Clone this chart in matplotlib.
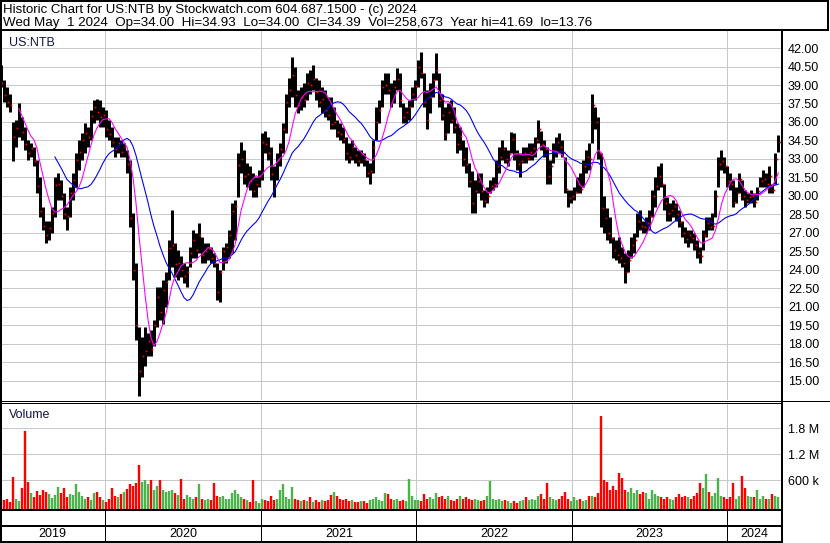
import numpy as np
import pandas as pd
import matplotlib
matplotlib.use("Agg")
import matplotlib.pyplot as plt
from matplotlib.patches import Rectangle

plt.rcParams['font.family'] = ['Liberation Sans', 'DejaVu Sans']

W, H = 830, 543
PX = 72 / 100  # one pixel in points

# roughly weekly bars from the end of April 2019 to May 1 2024
dates = pd.date_range(start="2019-04-30", end="2024-05-01", periods=260)

hi = [40.6, 39.4, 38.8, 38.3, 36.0, 36.2, 37.5, 36.4, 35.6, 34.5,
      34.3, 34.0, 32.9, 31.5, 29.1, 28.0, 28.0, 29.1, 31.5, 31.9,
      31.3, 30.2, 29.1, 30.7, 31.9, 33.5, 34.5, 35.1, 35.9, 35.6,
      37.0, 37.8, 37.9, 37.8, 37.2, 37.0, 36.2, 35.6, 34.8, 34.8,
      34.5, 34.3, 33.7, 32.9, 28.6, 24.6, 19.4, 18.6, 19.4, 18.9,
      19.1, 19.9, 22.6, 22.6, 23.2, 23.8, 26.4, 28.9, 26.2, 25.6,
      25.1, 24.6, 24.3, 25.9, 27.2, 27.0, 27.8, 26.7, 26.2, 26.2,
      25.9, 25.4, 24.6, 24.0, 25.9, 26.2, 27.2, 29.4, 29.7, 33.5,
      34.4, 33.7, 32.7, 32.4, 31.9, 31.5, 32.1, 35.1, 35.3, 34.8,
      34.0, 32.4, 33.5, 34.3, 35.9, 38.3, 39.6, 41.3, 40.5, 38.6,
      38.8, 39.2, 40.0, 40.2, 40.6, 39.6, 39.4, 38.8, 38.6, 38.0,
      38.0, 37.2, 36.2, 35.9, 35.6, 34.8, 34.3, 34.5, 34.0, 33.7,
      33.7, 33.5, 32.9, 32.7, 34.5, 37.2, 37.8, 39.4, 40.0, 40.0,
      39.2, 39.4, 40.4, 40.0, 37.5, 37.2, 37.8, 38.8, 39.4, 41.0,
      41.69, 40.0, 38.6, 39.2, 40.0, 41.6, 40.0, 38.3, 37.2, 37.5,
      37.8, 37.2, 35.9, 35.6, 34.5, 34.0, 32.7, 32.0, 31.3, 31.9,
      31.9, 30.5, 30.7, 31.3, 31.5, 32.9, 34.0, 34.5, 34.0, 33.7,
      35.2, 35.1, 33.7, 33.5, 34.0, 34.0, 34.3, 34.3, 34.8, 36.2,
      35.3, 34.5, 34.0, 32.9, 34.3, 34.8, 35.1, 34.5, 33.2, 30.5,
      30.5, 30.7, 31.5, 31.9, 32.9, 33.7, 34.3, 38.3, 37.2, 36.4,
      33.5, 30.0, 29.0, 28.3, 26.7, 26.4, 26.7, 25.9, 25.4, 25.6,
      26.7, 27.0, 28.6, 28.9, 28.0, 28.3, 28.9, 30.5, 31.5, 32.4,
      32.7, 31.0, 29.9, 29.4, 29.7, 29.4, 28.9, 28.0, 27.5, 27.2,
      27.2, 27.0, 26.4, 25.9, 27.2, 28.3, 28.3, 28.6, 30.5, 33.2,
      33.7, 33.2, 32.4, 31.9, 31.3, 30.7, 31.9, 31.3, 30.5, 30.2,
      30.5, 30.2, 30.7, 31.5, 32.1, 31.9, 32.4, 31.0, 33.5, 34.93]

lo = [38.8, 37.6, 37.2, 36.8, 32.8, 34.0, 34.8, 34.5, 33.7, 32.9,
      33.2, 32.4, 30.2, 28.3, 27.2, 26.2, 26.4, 27.0, 28.3, 29.7,
      29.7, 28.1, 27.2, 28.3, 29.7, 30.7, 32.1, 32.9, 33.5, 34.0,
      34.5, 35.9, 36.2, 35.6, 35.6, 34.8, 34.5, 34.0, 33.2, 33.5,
      33.2, 33.2, 31.9, 27.5, 23.2, 18.3, 13.76, 15.3, 16.2, 17.0,
      17.0, 17.8, 19.4, 19.9, 19.6, 21.0, 23.2, 24.2, 23.4, 23.2,
      23.4, 22.9, 22.6, 24.2, 25.0, 25.0, 25.4, 24.6, 24.6, 24.8,
      24.6, 24.2, 21.6, 21.4, 24.0, 24.6, 25.0, 25.4, 26.4, 29.9,
      31.9, 31.0, 30.7, 30.5, 29.9, 29.9, 30.7, 31.3, 33.5, 32.9,
      31.3, 29.9, 31.3, 32.4, 33.5, 35.1, 37.2, 38.0, 37.2, 36.7,
      37.0, 37.2, 37.8, 38.3, 38.6, 37.8, 37.2, 36.7, 36.4, 36.2,
      35.4, 35.4, 34.8, 34.5, 34.3, 32.9, 32.7, 32.9, 32.7, 32.4,
      32.7, 32.4, 31.5, 31.0, 31.9, 34.5, 35.9, 37.2, 38.3, 38.3,
      37.2, 37.5, 38.6, 37.2, 35.9, 35.9, 36.2, 37.2, 37.8, 38.8,
      39.6, 37.2, 35.4, 36.7, 38.0, 39.4, 37.2, 36.2, 34.5, 35.1,
      35.9, 35.1, 33.5, 33.7, 32.4, 31.9, 30.7, 28.6, 28.6, 30.2,
      29.7, 29.1, 29.4, 30.2, 30.5, 30.7, 31.9, 32.9, 32.7, 32.4,
      33.5, 32.9, 32.1, 31.5, 32.7, 32.7, 32.9, 32.9, 33.2, 34.3,
      33.7, 33.2, 31.0, 31.0, 32.7, 33.2, 33.5, 33.2, 30.2, 29.1,
      29.4, 29.7, 30.2, 30.2, 30.7, 31.9, 32.1, 34.3, 35.4, 33.0,
      27.5, 27.0, 26.4, 26.2, 25.0, 24.8, 24.6, 24.2, 22.9, 23.8,
      25.0, 25.4, 26.7, 27.2, 27.0, 27.0, 27.2, 28.3, 29.1, 30.5,
      30.7, 28.9, 28.0, 28.0, 28.3, 28.0, 27.5, 26.7, 26.2, 25.9,
      26.2, 25.6, 25.0, 24.6, 25.6, 26.7, 27.2, 27.2, 28.3, 30.7,
      32.1, 31.9, 30.7, 30.5, 29.1, 29.4, 30.2, 29.7, 29.1, 29.4,
      29.4, 29.1, 29.7, 30.7, 30.7, 30.7, 30.2, 30.2, 31.0, 33.6]

cl = [39.2, 38.2, 37.6, 37.4, 34.8, 35.5, 36.9, 35.2, 34.2, 33.5,
      33.9, 32.8, 30.8, 28.8, 27.6, 26.8, 27.4, 28.6, 30.9, 31.0,
      30.0, 28.5, 28.4, 30.2, 31.3, 32.9, 33.6, 34.5, 35.1, 34.8,
      36.5, 37.2, 36.8, 36.4, 36.6, 35.4, 35.0, 34.4, 33.8, 34.3,
      33.6, 34.0, 32.6, 28.2, 24.0, 19.5, 15.8, 17.0, 17.4, 18.2,
      17.6, 19.5, 21.8, 20.6, 22.4, 23.0, 25.8, 26.0, 24.5, 24.6,
      24.0, 23.5, 23.8, 25.4, 26.4, 25.6, 26.8, 25.2, 25.5, 25.8,
      25.0, 24.6, 22.2, 23.8, 25.5, 25.9, 26.8, 28.8, 29.2, 32.5,
      33.0, 31.6, 31.8, 31.2, 30.4, 31.0, 31.6, 34.4, 34.2, 33.5,
      31.8, 30.8, 32.9, 33.8, 35.4, 37.6, 38.6, 39.8, 38.2, 37.4,
      38.0, 37.8, 39.2, 39.0, 39.5, 38.4, 37.6, 37.9, 37.0, 36.6,
      35.8, 36.0, 35.2, 35.0, 34.6, 33.5, 33.2, 34.0, 33.3, 32.8,
      33.4, 33.0, 31.9, 32.0, 34.0, 36.0, 37.0, 38.8, 39.0, 38.6,
      37.6, 38.8, 39.5, 37.8, 36.4, 36.8, 37.2, 38.3, 38.9, 40.5,
      40.0, 37.6, 36.2, 38.0, 39.4, 40.2, 37.8, 36.6, 35.0, 36.8,
      36.2, 35.6, 34.2, 34.9, 33.0, 32.6, 31.2, 29.4, 30.4, 31.2,
      30.4, 29.6, 30.0, 30.8, 31.0, 32.4, 33.2, 33.8, 33.0, 33.4,
      34.6, 33.4, 32.6, 32.8, 33.5, 33.1, 33.6, 33.9, 34.5, 35.4,
      34.2, 33.8, 31.6, 32.4, 33.6, 34.4, 34.0, 33.6, 30.6, 29.8,
      30.0, 30.3, 31.0, 30.6, 32.4, 33.2, 33.0, 37.4, 36.0, 33.5,
      29.0, 28.2, 27.0, 26.6, 25.6, 25.2, 25.0, 24.6, 23.8, 24.8,
      26.0, 26.4, 28.0, 27.6, 27.5, 27.8, 28.4, 30.0, 30.8, 31.6,
      31.0, 29.4, 28.6, 28.9, 29.2, 28.5, 27.9, 27.0, 26.5, 26.8,
      26.6, 26.0, 25.4, 25.1, 26.8, 27.8, 27.5, 27.6, 30.0, 32.6,
      32.8, 32.4, 31.2, 31.0, 29.5, 30.2, 31.4, 30.0, 29.7, 29.9,
      30.0, 29.5, 30.4, 31.2, 31.4, 31.0, 31.6, 30.5, 33.0, 34.39]

# volume in thousands of shares
vol_k = [160, 150, 160, 100, 670, 170, 110, 410, 1730, 550,
         300, 200, 350, 250, 380, 330, 280, 180, 250, 450,
         300, 420, 200, 280, 250, 500, 330, 240, 170, 200,
         130, 310, 330, 200, 140, 100, 170, 420, 240, 200,
         280, 320, 400, 500, 460, 540, 950, 560, 590, 510,
         600, 370, 460, 600, 380, 320, 340, 380, 310, 250,
         620, 170, 250, 200, 160, 200, 500, 160, 140, 170,
         130, 540, 240, 200, 240, 170, 170, 300, 370, 280,
         200, 170, 130, 100, 600, 110, 80, 170, 140, 110,
         240, 130, 170, 380, 500, 200, 170, 430, 170, 130,
         110, 140, 110, 200, 100, 130, 100, 140, 110, 130,
         250, 330, 240, 160, 140, 170, 110, 140, 100, 90,
         110, 110, 80, 140, 170, 200, 130, 110, 300, 280,
         170, 130, 170, 110, 140, 110, 620, 240, 130, 130,
         110, 280, 170, 200, 170, 300, 200, 240, 170, 240,
         130, 110, 170, 240, 170, 200, 170, 140, 170, 140,
         110, 140, 240, 580, 170, 140, 170, 110, 140, 110,
         80, 110, 80, 110, 140, 200, 140, 170, 140, 240,
         280, 170, 540, 200, 170, 140, 170, 240, 330, 170,
         110, 200, 140, 170, 110, 140, 240, 240, 200, 300,
         2080, 600, 560, 380, 460, 370, 770, 640, 370, 330,
         420, 300, 370, 280, 330, 300, 170, 370, 280, 240,
         200, 170, 200, 170, 140, 200, 280, 200, 240, 200,
         170, 240, 300, 540, 420, 740, 330, 240, 300, 650,
         240, 200, 170, 200, 520, 170, 240, 700, 420, 240,
         200, 200, 370, 170, 240, 170, 170, 280, 240, 200]

ma_fast_weeks = 7
ma_slow_weeks = 19

price_ticks = np.arange(15.0, 42.01, 1.5)
vol_ticks = [600e3, 1.2e6, 1.8e6]
vol_labels = ["600 k", "1.2 M", "1.8 M"]
years = [2019, 2020, 2021, 2022, 2023, 2024]

title1 = "Historic Chart for US:NTB by Stockwatch.com 604.687.1500 - (c) 2024"
title2 = ("Wed May  1 2024  Op=34.00  Hi=34.93  Lo=34.00  Cl=34.39  "
          "Vol=258,673  Year hi=41.69  lo=13.76")

GRID = '#c8c8c8'
LABEL = '#15154a'
x_left, x_right = pd.Timestamp('2019-04-28'), pd.Timestamp('2024-05-07')
year_starts = [pd.Timestamp(f'{y}-01-01') for y in years[1:]]

close = pd.Series(cl, index=dates)
ma_fast = close.rolling(ma_fast_weeks).mean()
ma_slow = close.rolling(ma_slow_weeks).mean()
chg = close.diff()
vol_colors = ['#a8a8a8' if not (c > 0 or c < 0) else ('#4cb34c' if c > 0 else '#ff0000')
              for c in chg]

fig = plt.figure(figsize=(W / 100, H / 100), dpi=100)
fig.patch.set_facecolor('white')


def px_axes(x0, y0, x1, y1):
    return fig.add_axes([x0 / W, 1 - y1 / H, (x1 - x0) / W, (y1 - y0) / H])


def frame(ax):
    ax.set_xlim(x_left, x_right)
    ax.set_xticks(year_starts)
    ax.tick_params(axis='x', length=0, labelbottom=False)
    for s in ax.spines.values():
        s.set_visible(False)


# price panel
ax = px_axes(0, 31, 781, 400)
frame(ax)
ax.set_ylim(13.45, 43.38)
ax.grid(True, color=GRID, lw=PX)
ax.set_axisbelow(True)
ax.vlines(dates, lo, hi, color='black', lw=3.0 * PX, zorder=2)
ax.plot(dates + pd.Timedelta(days=3), cl, ls='none', marker='s', ms=1.7 * PX,
        mew=0, color='#ff0000', zorder=3)
ax.plot(dates, ma_slow, color='#0000ff', lw=1.1 * PX, zorder=4)
ax.plot(dates, ma_fast, color='#ff00ff', lw=1.1 * PX, zorder=4)
ax.yaxis.tick_right()
ax.set_yticks(price_ticks)
ax.set_yticklabels([f"{v:.2f}" for v in price_ticks])
ax.tick_params(axis='y', length=0, pad=5, labelsize=9)
ax.text(9 / 781, (400 - 46) / 369, "US:NTB", transform=ax.transAxes,
        fontsize=9, color=LABEL, va='baseline')

# volume panel
axv = px_axes(0, 402, 781, 509)
frame(axv)
vmin = -69.2e3
axv.set_ylim(vmin, 2.40e6)
axv.grid(True, color=GRID, lw=PX)
axv.set_axisbelow(True)
axv.vlines(dates, vmin, np.array(vol_k) * 1e3, colors=vol_colors, lw=2.4 * PX)
axv.yaxis.tick_right()
axv.set_yticks(vol_ticks)
axv.set_yticklabels(vol_labels)
axv.tick_params(axis='y', length=0, pad=5, labelsize=9)
axv.text(9 / 781, (509 - 418) / 107, "Volume", transform=axv.transAxes,
         fontsize=9, color=LABEL, va='baseline')

# year strip
axy = px_axes(0, 510, 781, 542)
frame(axy)
axy.set_ylim(0, 1)
axy.set_yticks([])
axy.vlines(year_starts, 0, 1, color='black', lw=PX)
axy.axhline(0.5, color='black', lw=2 * PX)
bounds = [x_left] + year_starts + [x_right]
for y, a, b in zip(years, bounds[:-1], bounds[1:]):
    axy.text(a + (b - a) / 2, 0.24, str(y), ha='center', va='center', fontsize=9)

# header and frame lines, in pixel coordinates
ov = fig.add_axes([0, 0, 1, 1])
ov.set_xlim(0, W)
ov.set_ylim(H, 0)
ov.axis('off')
ov.add_patch(Rectangle((1, 1), 826.5, 29, fill=False, ec='black', lw=2 * PX))
ov.plot([0, W], [400.5, 400.5], color='black', lw=PX)
ov.plot([0, 781], [402.5, 402.5], color='black', lw=PX)
ov.plot([0, 781], [509.5, 509.5], color='black', lw=2 * PX)
ov.plot([0, 781], [541.5, 541.5], color='black', lw=2 * PX)
ov.plot([1, 1], [0, H], color='black', lw=2 * PX)
ov.plot([781.5, 781.5], [30, 542.5], color='black', lw=2 * PX)
ov.text(3, 13, title1, fontsize=9.5, va='baseline')
ov.text(3, 26, title2, fontsize=9.6, va='baseline')

fig.savefig("out.png", dpi=100, facecolor='white')
